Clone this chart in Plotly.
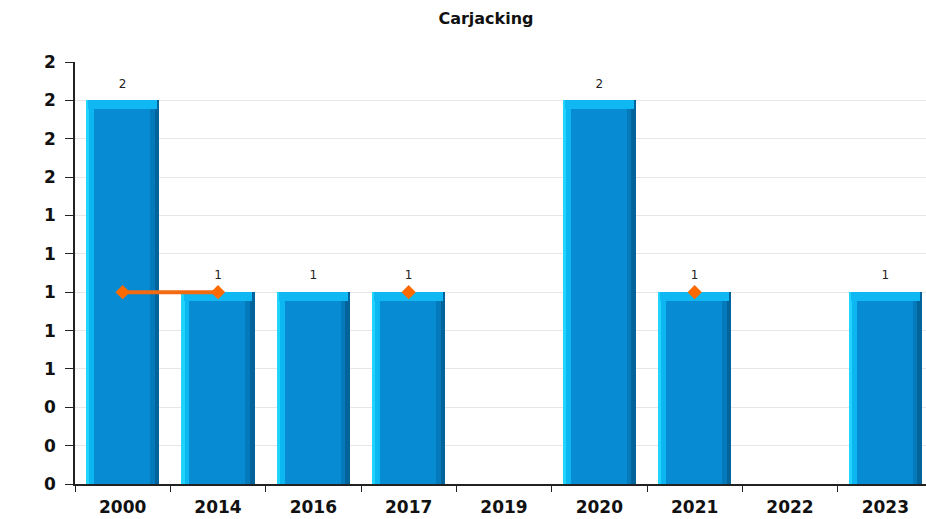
import plotly.graph_objects as go

# Dados
years = ["2000", "2014", "2016", "2017", "2019", "2020", "2021", "2022", "2023"]
counts = [2, 1, 1, 1, 0, 2, 1, 0, 1]
trend = [1, 1, None, 1, None, None, 1, None, None]
y_ticks = [0, 0.2, 0.4, 0.6, 0.8, 1.0, 1.2, 1.4, 1.6, 1.8, 2.0, 2.2]
y_labels = ["0", "0", "0", "1", "1", "1", "1", "1", "2", "2", "2", "2"]

labels = [str(c) if c else "" for c in counts]
W = 0.77
font_b = "DejaVu Sans"

fig = go.Figure()

# corpo da barra
fig.add_trace(go.Bar(x=years, y=counts, width=W, offset=-W / 2,
                     marker=dict(color="#078bd2", line=dict(width=0))))
# faixas laterais (efeito 3D)
for off, w, col in [(-W / 2, 0.035, "#20d4ff"), (-W / 2 + 0.035, 0.05, "#0cb6f0"),
                    (W / 2 - 0.1, 0.05, "#0479bb"), (W / 2 - 0.05, 0.05, "#03649b")]:
    fig.add_trace(go.Bar(x=years, y=counts, width=w, offset=off,
                         marker=dict(color=col, line=dict(width=0)), hoverinfo="skip"))
# topo chanfrado
fig.add_trace(go.Bar(x=years, y=[0.045 if c else 0 for c in counts],
                     base=[c - 0.045 for c in counts], width=W - 0.05, offset=-W / 2 + 0.025,
                     marker=dict(color="#0fb8f2", line=dict(width=0)), hoverinfo="skip"))

# linha laranja
fig.add_trace(go.Scatter(x=years, y=trend, mode="lines+markers", connectgaps=False,
                         line=dict(color="#f26a12", width=4),
                         marker=dict(symbol="diamond", size=11, color="#ff6a00")))

# rótulos de valor
fig.add_trace(go.Scatter(x=years, y=counts, mode="markers+text", text=labels,
                         marker=dict(size=14, opacity=0),
                         textposition="top center", cliponaxis=False,
                         textfont=dict(family=font_b, size=12, color="#222")))

fig.update_layout(
    width=934, height=519,
    barmode="overlay", bargap=0,
    showlegend=False,
    plot_bgcolor="white", paper_bgcolor="white",
    margin=dict(l=75, r=1, t=62, b=35),
    title=dict(text="<b>Carjacking</b>", x=486 / 934, xanchor="center",
               y=1 - 18 / 519, yanchor="middle",
               font=dict(family=font_b, size=16, color="#111")),
)
fig.update_xaxes(type="category", range=[-0.5, len(years) - 0.5],
                 tickson="boundaries", ticks="outside", ticklen=6,
                 tickcolor="#222", showline=True, linecolor="#222", linewidth=1.5,
                 showgrid=False, tickfont=dict(family=font_b, size=17, color="#111"),
                 ticklabelstandoff=7,
                 ticktext=[f"<b>{y}</b>" for y in years], tickvals=years)
fig.update_yaxes(range=[0, 2.2], tickvals=y_ticks, ticktext=[f"<b>{t}</b>" for t in y_labels],
                 ticks="outside", ticklen=8, tickcolor="#222", showline=True,
                 linecolor="#222", linewidth=1.5, showgrid=True, gridcolor="#e6e6e6",
                 zeroline=False, ticklabelstandoff=6,
                 tickfont=dict(family=font_b, size=17, color="#111"))

fig.write_html("out.html", config={"displayModeBar": False},
               post_script="document.body.style.margin='0';document.body.style.overflow='hidden';")
